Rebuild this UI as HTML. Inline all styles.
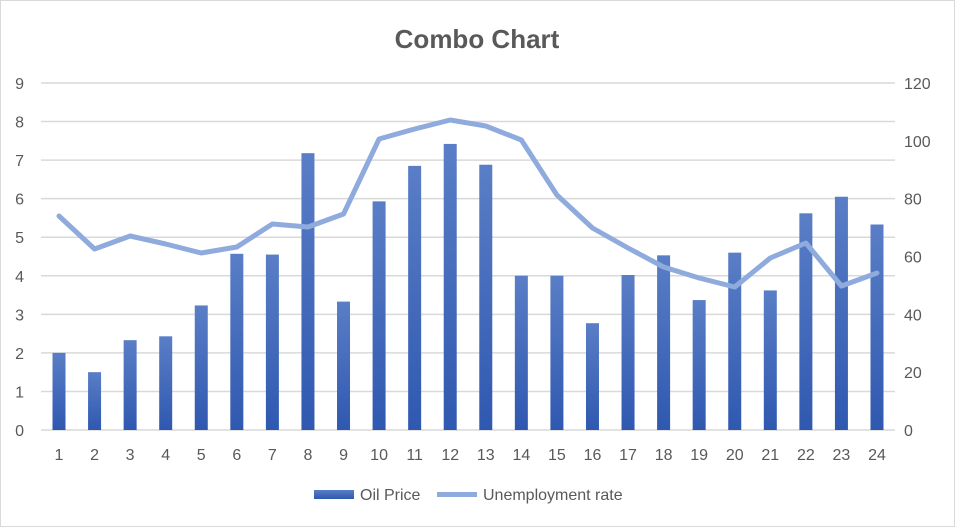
<!DOCTYPE html>
<html><head><style>body{margin:0;background:#fff}</style></head><body>
<svg width="955" height="527" xmlns="http://www.w3.org/2000/svg" font-family="Liberation Sans, sans-serif">
<defs><linearGradient id="g" x1="0" y1="0" x2="0" y2="1"><stop offset="0" stop-color="#5a7ec6"/><stop offset="1" stop-color="#2f58b0"/></linearGradient></defs>
<rect x="0.5" y="0.5" width="954" height="526" fill="#fff" stroke="#d9d9d9"/>
<text x="477" y="48" text-anchor="middle" font-size="26" font-weight="bold" fill="#595959">Combo Chart</text>
<g stroke="#d9d9d9" stroke-width="1.5" id="grid"></g>
<g id="bars" fill="url(#g)"></g>
<polyline id="ln" fill="none" stroke="#8faadc" stroke-width="5" stroke-linejoin="round" stroke-linecap="round"/>
<g id="lab" font-size="16" fill="#595959"></g>
<rect x="314" y="490" width="40" height="9" fill="url(#g)"/>
<text x="360" y="500" font-size="16" fill="#595959">Oil Price</text>
<line x1="437" y1="494.5" x2="477" y2="494.5" stroke="#8faadc" stroke-width="5"/>
<text x="483" y="500" font-size="16" fill="#595959">Unemployment rate</text>
</svg>
<script>
var ns="http://www.w3.org/2000/svg";
function el(p,t,a,tx){var e=document.createElementNS(ns,t);for(var k in a)e.setAttribute(k,a[k]);if(tx!==undefined)e.textContent=tx;document.getElementById(p).appendChild(e);}
var u=38.556;
for(var i=0;i<=9;i++){var y=430-i*u;el('grid','line',{x1:41,x2:895,y1:y,y2:y});el('lab','text',{x:24,y:y+6,'text-anchor':'end'},i);}
for(var i=0;i<=6;i++){var y=430-i*347/6;el('lab','text',{x:904,y:y+6},i*20);}
var v=[2,1.5,2.33,2.43,3.23,4.57,4.55,7.18,3.33,5.93,6.85,7.42,6.88,4,4,2.77,4.02,4.53,3.37,4.6,3.62,5.62,6.05,5.33];
var ly=[216,249,236,244,253,247,224,227,214,139,129,120,126,140,195,228,248,267,278,287,258,243,286,273];
var pts=[];
for(var i=0;i<24;i++){var x=59+i*35.565;var h=v[i]*u;el('bars','rect',{x:x-6.5,y:430-h,width:13,height:h});pts.push(x+','+ly[i]);el('lab','text',{x:x,y:460,'text-anchor':'middle'},i+1);}
document.getElementById('ln').setAttribute('points',pts.join(' '));
</script>
</body></html>
